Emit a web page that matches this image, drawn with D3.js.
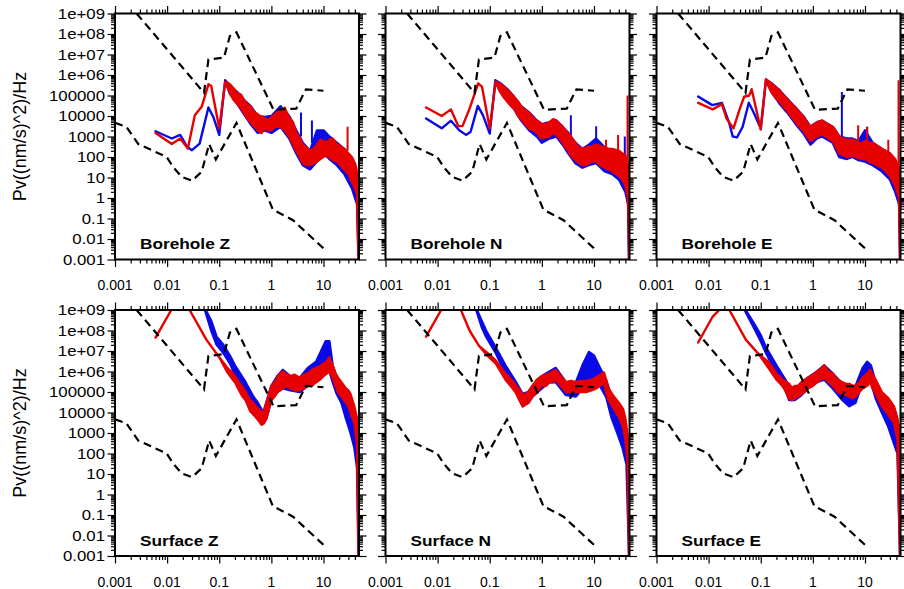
<!DOCTYPE html>
<html>
<head>
<meta charset="utf-8">
<script src="https://cdn.jsdelivr.net/npm/d3@7"></script>
<style>
  body { margin: 0; background: #fff; }
  text { font-family: "Liberation Sans", Arial, Helvetica, sans-serif; }
</style>
</head>
<body>
<div id="chart"></div>
<script>
// ------------------- //
// DATA
// ------------------- //

var panelLabels = ["Borehole Z", "Borehole N", "Borehole E", "Surface Z", "Surface N", "Surface E"]

var xTickValues = [0.001, 0.01, 0.1, 1, 10]
var xTickLabels = ["0.001", "0.01", "0.1", "1", "10"]
var yTickValues = [1e-3, 1e-2, 1e-1, 1, 10, 100, 1e3, 1e4, 1e5, 1e6, 1e7, 1e8, 1e9]
var yTickLabels = ["0.001", "0.01", "0.1", "1", "10", "100", "1000", "10000", "100000", "1e+06", "1e+07", "1e+08", "1e+09"]

// noise models (black dashed), same in every panel
var highModelFreq = [0.0026, 0.051, 0.062, 0.123, 0.16, 0.214, 1.1, 3.0, 4.6, 10]
var highModelPow  = [1e9, 1.35e5, 5.7e6, 7e6, 8e7, 1.2e8, 2e4, 2.3e4, 2e5, 1.7e5]
var lowModelFreq  = [0.001, 0.00165, 0.0028, 0.0098, 0.013, 0.019, 0.03, 0.046, 0.064, 0.086, 0.214, 1.07, 2.6, 10]
var lowModelPow   = [4.6e3, 3e3, 430, 100, 33, 10.7, 7, 19, 430, 76, 4.6e3, 0.27, 0.083, 0.0035]

// spectra: [frequency, low, high]  (low == high where the trace is a plain line)
var boreholeZBlue = [[0.006,1.8e3,1.8e3],[0.0123,800,800],[0.0178,1.2e3,1.2e3],[0.024,320,320],[0.03,215,215],[0.042,450,450],[0.062,2.6e4,2.6e4],[0.077,9e3,9e3],[0.1,1.2e3,1.2e3],[0.13,5.6e5,5.6e5],
  [0.16,1.2e5,3e5],[0.22,4e4,1.5e5],[0.3,1.2e4,6e4],[0.4,4e3,3e4],[0.55,1.5e3,1e4],[0.75,2e3,9e3],[1.0,1.5e3,1e4],[1.5,3e3,3e4],[2.2,800,1e4],[3,150,2e3],[4,40,500],[5.5,25,200],[7.5,60,2e3],[10,150,2e3],[13,80,1e3],[18,40,500],[25,15,250],[35,3,80],[44,0.5,8],[47,0.001,2]]
var boreholeZRed = [[0.006,1.5e3,1.5e3],[0.0123,430,430],[0.0178,800,800],[0.025,260,260],[0.034,1.1e4,1.1e4],[0.046,2.8e4,2.8e4],[0.062,3.5e5,3.5e5],[0.07,3e5,3e5],[0.1,2.5e3,2.5e3],[0.13,4.6e5,4.6e5],
  [0.15,2e5,4e5],[0.17,1e5,3e5],[0.19,6e4,2.2e5],[0.22,4e4,1.3e5],[0.26,2.5e4,1.1e5],[0.3,1.4e4,6e4],[0.35,7e3,3.5e4],[0.4,5e3,3e4],[0.47,3e3,1.5e4],[0.55,2e3,1.2e4],[0.65,1.5e3,9e3],[0.75,2.5e3,8e3],[0.87,2e3,6e3],[1.0,2e3,9e3],[1.2,3e3,1.3e4],[1.5,3e3,2e4],[1.8,2e3,2.5e4],[2.2,1e3,8e3],[2.6,400,5e3],[3,200,1.5e3],[3.5,100,900],[4,50,400],[4.7,40,300],[5.5,40,200],[6.5,50,250],[7.5,60,400],[8.7,80,700],[10,100,600],[11.5,120,500],[13,100,700],[15,70,800],[18,60,400],[21,40,350],[25,25,250],[30,15,150],[35,6,100],[40,3,50],[44,1.5,20],[47,0.001,8]]
var boreholeZBlueSpikes = [[3.7,1e3,1.5e4],[6,500,6e3]]
var boreholeZRedSpikes  = [[29,200,3e3]]

var boreholeNBlue = [[0.006,7.6e3,7.6e3],[0.012,2.5e3,2.5e3],[0.018,5.9e3,5.9e3],[0.026,2e3,2e3],[0.035,1.2e3,1.2e3],[0.043,1.7e3,1.7e3],[0.059,3.1e4,3.1e4],[0.074,1.1e4,1.1e4],[0.1,1.4e3,1.4e3],[0.128,5.6e5,5.6e5],
  [0.16,1.5e5,4e5],[0.22,5e4,2e5],[0.3,2e4,8e4],[0.4,6e3,3e4],[0.57,2e3,1.5e4],[0.8,1e3,6e3],[1.0,500,4e3],[1.4,800,5e3],[1.9,1e3,6e3],[2.5,400,3e3],[3.2,150,1.5e3],[4.4,50,500],[6,30,250],[8,40,400],[11,50,800],[16,20,300],[22,15,200],[30,8,150],[40,2,80],[45,0.5,20],[47,0.001,5]]
var boreholeNRed = [[0.006,2.6e4,2.6e4],[0.012,1e4,1e4],[0.018,2.1e4,2.1e4],[0.025,3.2e3,3.2e3],[0.03,3.2e3,3.2e3],[0.041,2.3e4,2.3e4],[0.06,3.9e5,3.9e5],[0.071,2.7e5,2.7e5],[0.1,2.5e3,2.5e3],[0.13,4.7e5,4.7e5],
  [0.15,2e5,4e5],[0.18,9e4,3e5],[0.22,5e4,1.8e5],[0.26,3e4,1.2e5],[0.3,2.2e4,8e4],[0.35,1e4,5e4],[0.4,7e3,3e4],[0.48,4e3,2e4],[0.57,2.5e3,1.4e4],[0.68,2e3,8e3],[0.8,1.5e3,6e3],[0.9,1e3,5e3],[1.0,800,4e3],[1.2,900,4e3],[1.4,1e3,5e3],[1.65,1.5e3,7e3],[1.9,1.2e3,6e3],[2.2,800,4e3],[2.5,500,3e3],[2.8,300,2e3],[3.2,200,1.5e3],[3.8,100,800],[4.4,70,500],[5.2,50,300],[6,40,250],[7,40,300],[8,50,300],[9.5,60,350],[11,60,400],[13,40,350],[16,30,300],[19,25,250],[22,20,250],[26,15,220],[30,12,200],[35,8,150],[40,4,120],[45,1,40],[47,0.001,10]]
var boreholeNBlueSpikes = [[3.6,700,1.1e4],[11,300,3.2e3],[39,50,1e3]]
var boreholeNRedSpikes  = [[17,100,700],[29,100,1.2e3],[44,10,1e5]]

var boreholeEBlue = [[0.0063,9e4,9e4],[0.0117,3.4e4,3.4e4],[0.018,4.4e4,4.4e4],[0.025,4.3e3,4.3e3],[0.029,1e3,1e3],[0.035,900,900],[0.045,3e3,3e3],[0.059,4.4e4,4.4e4],[0.072,1.6e4,1.6e4],[0.1,2.5e3,2.5e3],[0.126,6e5,6e5],
  [0.16,1.5e5,4e5],[0.23,4e4,1.8e5],[0.32,1.5e4,7e4],[0.47,4e3,2.5e4],[0.65,1.5e3,1e4],[0.9,400,3e3],[1.2,800,5e3],[1.5,1e3,6e3],[2.4,500,3e3],[3.2,100,1e3],[4.5,80,800],[5.7,100,800],[7.5,70,600],[10,60,2e3],[14,40,500],[21,20,250],[30,8,150],[38,2,60],[45,0.5,15],[47,0.001,5]]
var boreholeERed = [[0.0063,4.4e4,4.4e4],[0.012,2.1e4,2.1e4],[0.018,3.8e4,3.8e4],[0.022,7.6e3,7.6e3],[0.03,2.5e3,2.5e3],[0.039,2e4,2e4],[0.048,8.7e4,8.7e4],[0.06,1e5,1e5],[0.067,2e5,2e5],[0.1,2.2e3,2.2e3],[0.126,6e5,6e5],
  [0.14,3e5,5e5],[0.16,1.5e5,4e5],[0.19,8e4,2.5e5],[0.23,5e4,1.8e5],[0.27,3e4,1e5],[0.32,1.8e4,7e4],[0.38,1e4,4e4],[0.47,5e3,2.5e4],[0.55,3e3,1.5e4],[0.65,2e3,1e4],[0.77,1e3,5e3],[0.9,600,3e3],[1.05,800,4e3],[1.2,1e3,5e3],[1.5,1.3e3,6e3],[1.9,900,4e3],[2.4,600,3e3],[2.8,300,1.8e3],[3.2,150,1e3],[3.8,120,800],[4.5,100,700],[5.7,120,700],[6.5,100,600],[7.5,90,500],[8.7,80,450],[10,80,600],[12,60,500],[14,50,500],[17,40,350],[21,30,250],[25,20,200],[30,12,150],[38,4,80],[45,1,25],[47,0.001,8]]
var boreholeEBlueSpikes = [[3.6,1e3,1.5e5],[11,300,3e3]]
var boreholeERedSpikes  = [[7.4,300,3.5e3],[11,300,3e3],[28,50,700],[44,10,5.6e5]]

var surfaceZBlue = [[0.04,5e9,5e9],[0.053,1e9,1.2e9],[0.07,1e8,3e8],[0.089,2e7,5e7],[0.12,8e6,2e7],[0.16,2.5e6,6e6],[0.2,7e5,2e6],[0.25,3e5,8e5],[0.32,8e4,3e5],[0.45,2e4,6e4],[0.55,8e3,3e4],[0.7,3e3,1e4],[0.8,5e3,3e4],[1.0,4e4,2e5],[1.3,1e5,6e5],[1.66,1.5e5,1.2e6],[2.3,1.2e5,6e5],[3.5,1e5,5e5],[5,2e5,1.5e6],[7.2,3e5,3e6],[9,1e6,1e7],[11,2e6,3e7],[13,1e6,3e7],[15,3e5,2e6],[18,8e4,5e5],[22,3e4,2e5],[27,5e3,5e4],[33,1e3,1.5e4],[39,200,5e3],[44,20,1e3],[47,0.001,100]]
var surfaceZRed = [[0.006,4.5e7,4.5e7],[0.012,1e9,1e9],[0.018,5e9,5e9],[0.027,1e9,1e9],[0.057,3.5e7,3.5e7],[0.1,5e6,5e6],
  [0.14,1e6,1.6e6],[0.17,5e5,1e6],[0.2,3e5,6e5],[0.25,1e5,2.5e5],[0.28,6e4,1.8e5],[0.32,4e4,1e5],[0.39,1.2e4,4e4],[0.45,8e3,3e4],[0.5,6e3,2e4],[0.57,4e3,1.5e4],[0.65,2.5e3,1e4],[0.72,3e3,1.2e4],[0.8,5e3,3e4],[0.9,1.5e4,8e4],[1.0,4e4,2e5],[1.15,6e4,3e5],[1.3,1e5,5e5],[1.45,1.2e5,8e5],[1.66,1.5e5,1e6],[2.0,2e5,7e5],[2.3,1.5e5,6e5],[2.8,1.2e5,7e5],[3.5,1.2e5,5e5],[4.2,1.5e5,7e5],[5,2e5,8e5],[6,2e5,1.2e6],[7.2,3e5,1.5e6],[8.5,4e5,1.8e6],[10,6e5,2.5e6],[11.5,8e5,3e6],[13,1e6,5e6],[15,5e5,2e6],[17,2e5,8e5],[19,1e5,5e5],[22,6e4,3e5],[27,3e4,1.5e5],[30,2e4,1.2e5],[33,1e4,8e4],[39,3e3,2e4],[44,300,5e3],[47,0.001,1e3]]

var surfaceNBlue = [[0.04,5e9,5e9],[0.055,1e9,1.2e9],[0.07,1.5e8,3e8],[0.085,5e7,1e8],[0.13,8e6,1.5e7],[0.2,8e5,2e6],[0.32,1e5,3e5],[0.43,2e4,8e4],[0.55,3e4,1e5],[0.66,6e4,2e5],[1.0,1.5e5,6e5],[1.4,3e5,1e6],[1.85,3e5,1.5e6],[2.9,7e4,3e5],[4.5,6e4,3e5],[6,1.5e5,2e6],[8,5e5,9e6],[10,3e5,6e6],[13,2e5,1.5e6],[17,6e4,4e5],[22,5e3,5e4],[28,1e3,1.5e4],[35,200,3e3],[42,30,500],[47,0.001,50]]
var surfaceNRed = [[0.006,5e7,5e7],[0.0117,1e9,1e9],[0.018,5e9,5e9],[0.028,1e9,1e9],[0.041,1e8,1e8],[0.063,1.7e7,1.7e7],[0.09,6e6,8e6],[0.13,2.5e6,3.5e6],
  [0.2,4e5,8e5],[0.26,1.8e5,4e5],[0.32,9e4,2e5],[0.37,4e4,1.3e5],[0.43,2e4,7e4],[0.49,2.5e4,8e4],[0.55,3e4,1e5],[0.66,6e4,2e5],[0.8,1e5,4e5],[1.0,2e5,6e5],[1.2,2e5,7e5],[1.4,3e5,8e5],[1.6,3e5,1e6],[1.85,4e5,1.2e6],[2.3,2e5,6e5],[2.9,1e5,3e5],[3.6,1e5,3.5e5],[4.5,1e5,3e5],[5.6,1e5,3.5e5],[7,1e5,3.5e5],[9,1.2e5,4e5],[11,1.5e5,5e5],[13,2e5,7e5],[15.5,3e5,9e5],[17,1e5,4e5],[19,4e4,1.5e5],[24,1.5e4,6e4],[30,6e3,3e4],[36,2e3,1.5e4],[40,500,5e3],[44,50,800],[47,0.001,100]]

var surfaceEBlue = [[0.04,5e9,5e9],[0.049,1e9,1.2e9],[0.076,1.2e8,2e8],[0.1,3e7,6e7],[0.126,8e6,1.5e7],[0.2,8e5,2e6],[0.28,2e5,5e5],[0.35,4e4,2e5],[0.45,4e4,1.5e5],[0.6,7e4,2.5e5],[0.8,1.5e5,5e5],[1.2,3e5,1e6],[1.65,4e5,2e6],[2.4,1.5e5,8e5],[3.7,4e4,2.5e5],[5,2e4,2e5],[6.6,3e4,2e5],[9,3e5,1.5e6],[11,5e5,3e6],[13,3e5,2e6],[16,5e4,3e5],[21,1e4,6e4],[28,2e3,2e4],[36,300,5e3],[42,100,1e3],[47,0.001,100]]
var surfaceERed = [[0.0063,2.6e7,2.6e7],[0.012,4.8e8,4.8e8],[0.016,1e9,1e9],[0.02,1.5e9,1.5e9],[0.025,1e9,1e9],[0.052,3.5e7,3.5e7],[0.094,6.5e6,6.5e6],
  [0.14,1.5e6,3e6],[0.2,4e5,8e5],[0.24,2.5e5,5e5],[0.28,1.5e5,3.5e5],[0.35,5e4,2.5e5],[0.4,4e4,1.5e5],[0.45,5e4,2e5],[0.52,6e4,2e5],[0.6,8e4,3e5],[0.7,1e5,4e5],[0.8,1.5e5,5e5],[1.0,2e5,7e5],[1.2,3e5,1e6],[1.4,4e5,1.3e6],[1.65,5e5,2e6],[2.0,3e5,1e6],[2.4,2e5,8e5],[3.0,1e5,4e5],[3.7,8e4,3e5],[4.3,7e4,2.5e5],[5,6e4,2.5e5],[5.8,5e4,2e5],[6.6,6e4,2e5],[7.8,1e5,3e5],[9,1.5e5,5e5],[11,2e5,8e5],[12.6,3e5,1.2e6],[14,1.5e5,7e5],[16,8e4,4e5],[21,2e4,1e5],[28,8e3,5e4],[36,3e3,2e4],[42,500,5e3],[47,0.001,1e3]]

var panels = [
  {label: panelLabels[0], blue: boreholeZBlue, red: boreholeZRed, blueSpikes: boreholeZBlueSpikes, redSpikes: boreholeZRedSpikes},
  {label: panelLabels[1], blue: boreholeNBlue, red: boreholeNRed, blueSpikes: boreholeNBlueSpikes, redSpikes: boreholeNRedSpikes},
  {label: panelLabels[2], blue: boreholeEBlue, red: boreholeERed, blueSpikes: boreholeEBlueSpikes, redSpikes: boreholeERedSpikes},
  {label: panelLabels[3], blue: surfaceZBlue, red: surfaceZRed, blueSpikes: [], redSpikes: []},
  {label: panelLabels[4], blue: surfaceNBlue, red: surfaceNRed, blueSpikes: [], redSpikes: []},
  {label: panelLabels[5], blue: surfaceEBlue, red: surfaceERed, blueSpikes: [], redSpikes: []}
]

// ------------------- //
// LAYOUT
// ------------------- //

var W = 904, H = 589
var colLeft = [115, 385.5, 656.5],
  rowTop = [13.5, 310],
  pw = 244,
  ph = 246

var BLUE = "#0a0ae6", RED = "#e60000"

var svg = d3.select("#chart")
  .append("svg")
    .attr("width", W)
    .attr("height", H)

svg.append("defs").append("clipPath")
    .attr("id", "clip")
  .append("rect")
    .attr("width", pw)
    .attr("height", ph)

var x = d3.scaleLog().domain([0.001, 48]).range([0, pw])
var y = d3.scaleLog().domain([0.001, 1e9]).range([ph, 0])

// minor tick positions (2..9 in each decade)
var xMinor = [], yMinor = []
xTickValues.forEach(function(d) { for (var k = 2; k <= 9; k++) if (d * k < 48) xMinor.push(d * k) })
yTickValues.slice(0, -1).forEach(function(d) { for (var k = 2; k <= 9; k++) yMinor.push(d * k) })

var area = d3.area()
  .x(function(d) { return x(d[0]) })
  .y0(function(d) { return y(d[1]) })
  .y1(function(d) { return y(d[2]) })

var dashLine = d3.line()
  .x(function(d) { return x(d[0]) })
  .y(function(d) { return y(d[1]) })

var highModel = highModelFreq.map(function(f, i) { return [f, highModelPow[i]] })
var lowModel = lowModelFreq.map(function(f, i) { return [f, lowModelPow[i]] })

panels.forEach(function(p, i) {
  var col = i % 3, row = Math.floor(i / 3)
  var g = svg.append("g")
    .attr("transform", "translate(" + colLeft[col] + "," + rowTop[row] + ")")

  var plot = g.append("g").attr("clip-path", "url(#clip)")

  // spectra: blue first, red on top
  ;[[p.blue, p.blueSpikes, BLUE], [p.red, p.redSpikes, RED]].forEach(function(s) {
    plot.append("path")
      .datum(s[0])
      .attr("d", area)
      .attr("fill", s[2])
      .attr("stroke", s[2])
      .attr("stroke-width", 2.4)
      .attr("stroke-linejoin", "round")
    plot.selectAll(null)
      .data(s[1])
      .enter()
      .append("line")
        .attr("x1", function(d) { return x(d[0]) })
        .attr("x2", function(d) { return x(d[0]) })
        .attr("y1", function(d) { return y(d[1]) })
        .attr("y2", function(d) { return y(d[2]) })
        .attr("stroke", s[2])
        .attr("stroke-width", 2)
  })

  // noise models
  ;[highModel, lowModel].forEach(function(m) {
    plot.append("path")
      .datum(m)
      .attr("d", dashLine)
      .attr("fill", "none")
      .attr("stroke", "#000")
      .attr("stroke-width", 2.2)
      .attr("stroke-dasharray", "8,5")
  })

  // ticks on all four sides
  var axes = [
    [d3.axisBottom, x, "translate(0," + ph + ")"],
    [d3.axisTop, x, null],
    [d3.axisLeft, y, null],
    [d3.axisRight, y, "translate(" + pw + ",0)"]
  ]
  axes.forEach(function(a) {
    var isX = a[1] === x
    var major = isX ? xTickValues : yTickValues
    var minor = isX ? xMinor : yMinor
    var gm = g.append("g").attr("transform", a[2])
      .call(a[0](a[1]).tickValues(minor).tickSize(4).tickSizeOuter(0).tickFormat(""))
    var gM = g.append("g").attr("transform", a[2])
      .call(a[0](a[1]).tickValues(major).tickSize(7.5).tickSizeOuter(0).tickFormat(""))
    ;[gm, gM].forEach(function(ga) {
      ga.select(".domain").remove()
      ga.selectAll("line").attr("stroke-width", 1.2)
    })
  })

  // x tick labels
  g.selectAll(".xlab")
    .data(xTickValues)
    .enter()
    .append("text")
      .attr("x", function(d) { return x(d) })
      .attr("y", ph + 30.5)
      .attr("text-anchor", "middle")
      .style("font-size", "14px")
      .text(function(d, k) { return xTickLabels[k] })

  // y tick labels on the left column only
  if (col === 0) {
    g.selectAll(".ylab")
      .data(yTickValues)
      .enter()
      .append("text")
        .attr("transform", function(d) { return "translate(-10," + y(d) + ") scale(1.2,1)" })
        .attr("text-anchor", "end")
        .attr("dy", "0.36em")
        .style("font-size", "14px")
        .text(function(d, k) { return yTickLabels[k] })
  }

  // frame
  g.append("rect")
    .attr("width", pw)
    .attr("height", ph)
    .attr("fill", "none")
    .attr("stroke", "#000")
    .attr("stroke-width", 2)

  // panel label
  g.append("text")
    .attr("transform", "translate(25," + (ph - 10.5) + ") scale(1.15,1)")
    .style("font-size", "15px")
    .style("font-weight", "bold")
    .text(p.label)
})

// y axis titles
rowTop.forEach(function(t) {
  svg.append("text")
    .attr("transform", "translate(20," + (t + ph / 2) + ") rotate(-90)")
    .attr("text-anchor", "middle")
    .attr("dominant-baseline", "central")
    .style("font-size", "18px")
    .text("Pv((nm/s)^2)/Hz")
})
</script>
</body>
</html>
